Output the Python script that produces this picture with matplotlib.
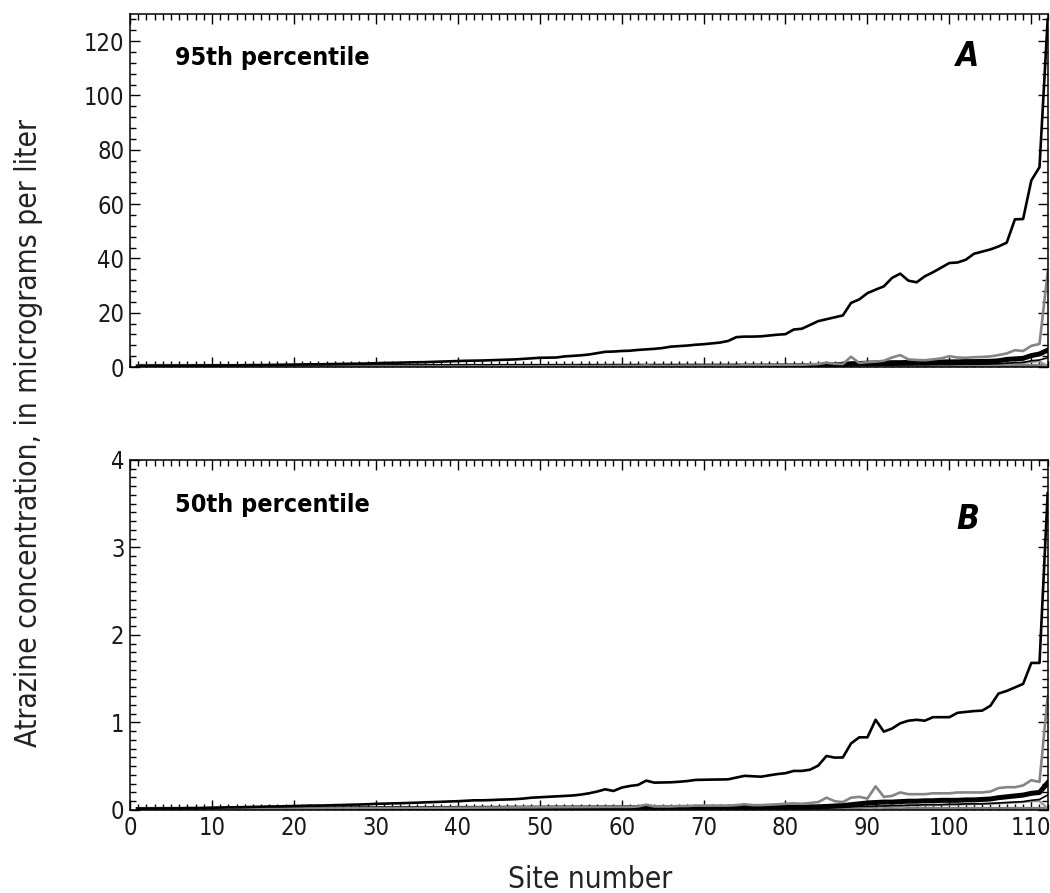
import matplotlib
matplotlib.use("Agg")
import matplotlib.pyplot as plt
from matplotlib.ticker import MultipleLocator

plt.rcParams['font.family'] = ['DejaVu Sans']
plt.rcParams['font.stretch'] = 'condensed'

sites = list(range(1, 113))

# ---- Panel A: 95th percentile ----
a_top = [0.2, 0.25, 0.3, 0.3, 0.35, 0.4, 0.4, 0.45, 0.5, 0.5,
         0.55, 0.6, 0.6, 0.65, 0.7, 0.7, 0.75, 0.8, 0.85, 0.9,
         0.95, 1.0, 1.0, 1.05, 1.1, 1.15, 1.2, 1.25, 1.3, 1.4,
         1.5, 1.55, 1.6, 1.7, 1.75, 1.8, 1.9, 2.0, 2.1, 2.2,
         2.3, 2.35, 2.4, 2.5, 2.6, 2.7, 2.8, 3.0, 3.2, 3.4,
         3.45, 3.5, 3.9, 4.1, 4.3, 4.6, 5.1, 5.6, 5.7, 5.9,
         6.0, 6.3, 6.5, 6.7, 7.0, 7.5, 7.7, 7.9, 8.2, 8.4,
         8.7, 9.0, 9.6, 11.0, 11.2, 11.2, 11.3, 11.6, 11.9, 12.1,
         13.8, 14.1, 15.5, 16.9, 17.6, 18.3, 19.0, 23.6, 24.9, 27.2,
         28.5, 29.7, 32.8, 34.4, 31.8, 31.2, 33.4, 34.9, 36.6, 38.3,
         38.5, 39.5, 41.7, 42.5, 43.3, 44.4, 45.8, 54.4, 54.5, 68.7,
         73.6, 128.0]
a_gray = [0.1, 0.1, 0.1, 0.1, 0.1, 0.1, 0.1, 0.1, 0.1, 0.1,
          0.1, 0.1, 0.1, 0.1, 0.1, 0.1, 0.1, 0.1, 0.1, 0.1,
          0.1, 0.1, 0.1, 0.1, 0.15, 0.15, 0.15, 0.15, 0.15, 0.2,
          0.2, 0.2, 0.2, 0.2, 0.2, 0.2, 0.2, 0.2, 0.2, 0.2,
          0.2, 0.25, 0.2, 0.2, 0.25, 0.25, 0.25, 0.3, 0.25, 0.3,
          0.3, 0.3, 0.3, 0.35, 0.3, 0.3, 0.35, 0.4, 0.35, 0.4,
          0.4, 0.4, 0.6, 0.4, 0.45, 0.4, 0.45, 0.5, 0.45, 0.5,
          0.5, 0.5, 0.55, 0.5, 0.7, 0.6, 0.6, 0.65, 0.7, 0.7,
          0.75, 0.8, 1.0, 1.1, 1.6, 1.2, 1.1, 3.8, 1.5, 1.8,
          2.0, 2.3, 3.5, 4.4, 2.8, 2.6, 2.5, 2.8, 3.2, 4.0,
          3.5, 3.4, 3.6, 3.7, 3.9, 4.4, 5.0, 6.2, 5.9, 7.8,
          8.5, 35.0]
a_thick = [0.05, 0.05, 0.05, 0.05, 0.05, 0.05, 0.05, 0.05, 0.05, 0.05,
           0.05, 0.05, 0.06, 0.06, 0.06, 0.07, 0.07, 0.07, 0.08, 0.08,
           0.08, 0.09, 0.09, 0.1, 0.1, 0.1, 0.11, 0.11, 0.12, 0.12,
           0.12, 0.13, 0.13, 0.14, 0.14, 0.15, 0.15, 0.16, 0.16, 0.17,
           0.17, 0.18, 0.18, 0.19, 0.19, 0.2, 0.2, 0.21, 0.21, 0.22,
           0.22, 0.23, 0.23, 0.24, 0.24, 0.25, 0.25, 0.26, 0.26, 0.27,
           0.27, 0.28, 0.28, 0.29, 0.29, 0.3, 0.3, 0.31, 0.31, 0.32,
           0.32, 0.33, 0.33, 0.34, 0.34, 0.35, 0.35, 0.36, 0.37, 0.38,
           0.4, 0.45, 0.5, 0.55, 0.7, 0.8, 1.0, 1.2, 1.3, 1.4,
           1.5, 1.5, 1.6, 1.6, 1.7, 1.7, 1.8, 1.8, 1.85, 1.9,
           1.9, 2.0, 2.0, 2.05, 2.1, 2.3, 2.8, 3.0, 3.2, 4.2,
           4.8, 6.2]
a_thin = [0.02, 0.02, 0.02, 0.02, 0.02, 0.02, 0.02, 0.02, 0.02, 0.02,
          0.02, 0.02, 0.03, 0.03, 0.03, 0.03, 0.03, 0.04, 0.04, 0.04,
          0.04, 0.04, 0.05, 0.05, 0.05, 0.05, 0.06, 0.06, 0.06, 0.06,
          0.07, 0.07, 0.07, 0.07, 0.08, 0.08, 0.08, 0.08, 0.09, 0.09,
          0.09, 0.09, 0.1, 0.1, 0.1, 0.1, 0.11, 0.11, 0.11, 0.12,
          0.12, 0.12, 0.12, 0.13, 0.13, 0.13, 0.14, 0.14, 0.14, 0.15,
          0.15, 0.15, 0.15, 0.16, 0.16, 0.16, 0.17, 0.17, 0.17, 0.18,
          0.18, 0.18, 0.19, 0.19, 0.19, 0.2, 0.2, 0.2, 0.2, 0.2,
          0.2, 0.2, 0.25, 0.3, 0.35, 0.4, 0.45, 0.5, 0.55, 0.6,
          0.65, 0.7, 0.7, 0.75, 0.75, 0.8, 0.8, 0.85, 0.9, 0.9,
          0.95, 1.0, 1.0, 1.05, 1.1, 1.2, 1.4, 1.6, 1.7, 2.3,
          2.6, 3.4]
a_gray2 = [0.03, 0.03, 0.03, 0.03, 0.03, 0.03, 0.03, 0.03, 0.03, 0.03,
           0.03, 0.03, 0.04, 0.04, 0.04, 0.04, 0.05, 0.05, 0.05, 0.05,
           0.06, 0.06, 0.06, 0.06, 0.07, 0.07, 0.07, 0.07, 0.08, 0.08,
           0.08, 0.08, 0.09, 0.09, 0.09, 0.09, 0.1, 0.1, 0.1, 0.1,
           0.11, 0.11, 0.11, 0.11, 0.12, 0.12, 0.12, 0.12, 0.13, 0.13,
           0.13, 0.13, 0.14, 0.14, 0.14, 0.14, 0.15, 0.15, 0.15, 0.15,
           0.16, 0.16, 0.16, 0.16, 0.17, 0.17, 0.17, 0.17, 0.18, 0.18,
           0.18, 0.18, 0.19, 0.19, 0.19, 0.19, 0.2, 0.2, 0.2, 0.2,
           0.21, 0.21, 0.22, 0.23, 0.25, 0.3, 0.35, 0.4, 0.45, 0.5,
           0.5, 0.55, 0.6, 0.6, 0.65, 0.65, 0.7, 0.7, 0.75, 0.8,
           0.8, 0.85, 0.9, 0.9, 0.95, 1.0, 1.2, 1.4, 1.5, 1.9,
           2.1, 0.3]
a_band = [0.0, 0.0, 0.0, 0.0, 0.0, 0.0, 0.0, 0.0, 0.0, 0.0,
          0.0, 0.0, 0.0, 0.0, 0.0, 0.0, 0.0, 0.0, 0.0, 0.0,
          0.0, 0.0, 0.0, 0.0, 0.0, 0.0, 0.0, 0.0, 0.0, 0.0,
          0.0, 0.0, 0.0, 0.0, 0.0, 0.0, 0.0, 0.0, 0.0, 0.0,
          0.0, 0.0, 0.0, 0.0, 0.0, 0.0, 0.0, 0.0, 0.0, 0.0,
          0.0, 0.0, 0.0, 0.0, 0.0, 0.0, 0.0, 0.0, 0.0, 0.0,
          0.0, 0.0, 0.0, 0.0, 0.0, 0.0, 0.0, 0.0, 0.0, 0.0,
          0.0, 0.0, 0.0, 0.0, 0.0, 0.0, 0.0, 0.0, 0.0, 0.0,
          0.0, 0.0, 0.0, 0.0, 0.0, 0.0, 0.0, 0.0, 0.0, 0.0,
          0.0, 0.0, 0.0, 0.0, 0.0, 0.0, 0.0, 0.0, 0.0, 0.0,
          0.0, 0.0, 0.0, 0.0, 0.0, 0.0, 0.0, 0.0, 0.0, 0.0,
          0.0, 0.0]

# ---- Panel B: 50th percentile ----
b_top = [0.01, 0.01, 0.012, 0.015, 0.015, 0.017, 0.02, 0.02, 0.022, 0.025,
         0.027, 0.03, 0.03, 0.032, 0.035, 0.037, 0.04, 0.04, 0.042, 0.045,
         0.047, 0.05, 0.05, 0.052, 0.055, 0.057, 0.06, 0.062, 0.065, 0.07,
         0.072, 0.075, 0.077, 0.08, 0.083, 0.087, 0.09, 0.093, 0.097, 0.1,
         0.105, 0.11, 0.11, 0.113, 0.117, 0.12, 0.123, 0.13, 0.14, 0.145,
         0.15, 0.155, 0.16, 0.165, 0.175, 0.19, 0.21, 0.236, 0.217, 0.255,
         0.274, 0.286, 0.335, 0.312, 0.314, 0.316, 0.322, 0.33, 0.343, 0.345,
         0.347, 0.348, 0.35, 0.37, 0.39, 0.385, 0.38, 0.395, 0.41, 0.42,
         0.446, 0.446, 0.46, 0.507, 0.617, 0.598, 0.6, 0.76, 0.83, 0.83,
         1.03, 0.895, 0.93, 0.99, 1.02, 1.03, 1.02, 1.06, 1.06, 1.06,
         1.11, 1.12, 1.13, 1.135, 1.19, 1.33, 1.36, 1.4, 1.44, 1.68,
         1.68, 3.62]
b_gray = [0.01, 0.01, 0.01, 0.01, 0.01, 0.01, 0.01, 0.01, 0.01, 0.01,
          0.011, 0.012, 0.012, 0.013, 0.013, 0.014, 0.014, 0.015, 0.015, 0.016,
          0.016, 0.017, 0.017, 0.018, 0.018, 0.019, 0.019, 0.02, 0.02, 0.021,
          0.021, 0.022, 0.022, 0.023, 0.023, 0.024, 0.024, 0.025, 0.025, 0.026,
          0.026, 0.027, 0.027, 0.028, 0.028, 0.029, 0.029, 0.03, 0.03, 0.031,
          0.031, 0.032, 0.032, 0.033, 0.033, 0.034, 0.034, 0.035, 0.035, 0.035,
          0.035, 0.04, 0.06, 0.04, 0.04, 0.04, 0.045, 0.045, 0.05, 0.05,
          0.05, 0.05, 0.05, 0.055, 0.065, 0.055, 0.055, 0.06, 0.065, 0.07,
          0.075, 0.07, 0.08, 0.09, 0.14, 0.1, 0.09, 0.14, 0.15, 0.13,
          0.27, 0.15, 0.16, 0.2, 0.18, 0.18, 0.18, 0.19, 0.19, 0.19,
          0.2, 0.2, 0.2, 0.2, 0.21, 0.25, 0.26, 0.26, 0.28, 0.34,
          0.32, 1.3]
b_thick = [0.005, 0.005, 0.005, 0.006, 0.006, 0.006, 0.007, 0.007, 0.007, 0.008,
           0.008, 0.008, 0.009, 0.009, 0.009, 0.01, 0.01, 0.01, 0.011, 0.011,
           0.011, 0.012, 0.012, 0.012, 0.013, 0.013, 0.013, 0.014, 0.014, 0.014,
           0.015, 0.015, 0.015, 0.016, 0.016, 0.016, 0.017, 0.017, 0.017, 0.018,
           0.018, 0.018, 0.019, 0.019, 0.019, 0.02, 0.02, 0.02, 0.021, 0.021,
           0.021, 0.022, 0.022, 0.022, 0.023, 0.023, 0.023, 0.024, 0.024, 0.024,
           0.025, 0.025, 0.025, 0.026, 0.026, 0.026, 0.027, 0.027, 0.027, 0.028,
           0.028, 0.028, 0.029, 0.029, 0.029, 0.03, 0.03, 0.031, 0.031, 0.032,
           0.032, 0.033, 0.034, 0.036, 0.04, 0.045, 0.05, 0.06, 0.07, 0.08,
           0.085, 0.09, 0.09, 0.095, 0.1, 0.1, 0.105, 0.105, 0.11, 0.11,
           0.11, 0.115, 0.115, 0.12, 0.125, 0.14, 0.15, 0.16, 0.17, 0.19,
           0.2, 0.31]
b_thin = [0.002, 0.002, 0.002, 0.002, 0.002, 0.003, 0.003, 0.003, 0.003, 0.003,
          0.003, 0.004, 0.004, 0.004, 0.004, 0.005, 0.005, 0.005, 0.005, 0.006,
          0.006, 0.006, 0.006, 0.006, 0.007, 0.007, 0.007, 0.007, 0.007, 0.008,
          0.008, 0.008, 0.008, 0.008, 0.009, 0.009, 0.009, 0.009, 0.009, 0.01,
          0.01, 0.01, 0.01, 0.01, 0.011, 0.011, 0.011, 0.011, 0.011, 0.012,
          0.012, 0.012, 0.012, 0.012, 0.013, 0.013, 0.013, 0.013, 0.013, 0.014,
          0.014, 0.014, 0.014, 0.014, 0.015, 0.015, 0.015, 0.015, 0.015, 0.016,
          0.016, 0.016, 0.016, 0.016, 0.017, 0.017, 0.017, 0.017, 0.018, 0.018,
          0.019, 0.019, 0.02, 0.022, 0.025, 0.03, 0.03, 0.035, 0.04, 0.04,
          0.045, 0.045, 0.05, 0.05, 0.055, 0.055, 0.06, 0.06, 0.06, 0.065,
          0.065, 0.07, 0.07, 0.07, 0.075, 0.08, 0.085, 0.09, 0.095, 0.11,
          0.12, 0.17]
b_gray2 = [0.004, 0.004, 0.004, 0.004, 0.004, 0.004, 0.004, 0.004, 0.004, 0.004,
           0.004, 0.005, 0.005, 0.005, 0.005, 0.006, 0.006, 0.006, 0.006, 0.007,
           0.007, 0.007, 0.007, 0.008, 0.008, 0.008, 0.008, 0.009, 0.009, 0.009,
           0.009, 0.01, 0.01, 0.01, 0.01, 0.011, 0.011, 0.011, 0.011, 0.012,
           0.012, 0.012, 0.012, 0.013, 0.013, 0.013, 0.013, 0.014, 0.014, 0.014,
           0.014, 0.015, 0.015, 0.015, 0.015, 0.016, 0.016, 0.016, 0.016, 0.017,
           0.017, 0.017, 0.017, 0.018, 0.018, 0.018, 0.018, 0.019, 0.019, 0.019,
           0.019, 0.02, 0.02, 0.02, 0.02, 0.021, 0.021, 0.021, 0.021, 0.022,
           0.022, 0.023, 0.024, 0.026, 0.03, 0.03, 0.035, 0.04, 0.04, 0.02,
           0.0, 0.04, 0.04, 0.03, 0.05, 0.05, 0.055, 0.055, 0.06, 0.06,
           0.06, 0.065, 0.065, 0.07, 0.07, 0.075, 0.08, 0.085, 0.09, 0.1,
           0.1, 0.02]
b_band = a_band

panels = [
    dict(top=a_top, gray=a_gray, thick=a_thick, thin=a_thin, gray2=a_gray2, band=a_band,
         ymax=130, minor=4, yticks=[0, 20, 40, 60, 80, 100, 120],
         title='95th percentile', letter='A', ty=0.875, ly=0.88),
    dict(top=b_top, gray=b_gray, thick=b_thick, thin=b_thin, gray2=b_gray2, band=b_band,
         ymax=4, minor=0.1, yticks=[0, 1, 2, 3, 4],
         title='50th percentile', letter='B', ty=0.871, ly=0.83),
]

fig = plt.figure(figsize=(10.5, 8.93), dpi=100)
ax_a = fig.add_axes([0.1238, 0.589, 0.874, 0.3953])
ax_b = fig.add_axes([0.1238, 0.093, 0.874, 0.392])

for ax, p in zip([ax_a, ax_b], panels):
    ax.plot(sites, p['band'], color='#7a7a7a', lw=4.5, solid_capstyle='butt')
    ax.plot(sites, p['gray2'], color='#9a9a9a', lw=1.6)
    ax.plot(sites, p['thin'], color='black', lw=1.2)
    ax.plot(sites, p['thick'], color='black', lw=3.6)
    ax.plot(sites, p['gray'], color='#858585', lw=1.9)
    ax.plot(sites, p['top'], color='black', lw=1.9)

    ax.set_xlim(0, 112)
    ax.set_ylim(0, p['ymax'])
    ax.set_yticks(p['yticks'])
    ax.xaxis.set_major_locator(MultipleLocator(10))
    ax.xaxis.set_minor_locator(MultipleLocator(1))
    ax.yaxis.set_minor_locator(MultipleLocator(p['minor']))
    ax.tick_params(which='both', direction='in', top=True, right=True, width=1.0)
    ax.tick_params(which='major', length=7, labelsize=17, pad=4,
                   labelcolor='#1a1a1a')
    ax.tick_params(which='minor', length=4)
    for s in ax.spines.values():
        s.set_linewidth(1.1)

    ax.text(0.049, p['ty'], p['title'], transform=ax.transAxes,
            fontsize=18, fontweight='bold', va='center')
    ax.text(0.913, p['ly'], p['letter'], transform=ax.transAxes, fontsize=24,
            fontweight='bold', fontstyle='italic', ha='center', va='center')

ax_a.tick_params(labelbottom=False)
ax_b.set_xticks([0, 10, 20, 30, 40, 50, 60, 70, 80, 90, 100, 110])

fig.text(0.027, 0.515, 'Atrazine concentration, in micrograms per liter',
         rotation=90, ha='center', va='center', fontsize=21.5, color='#222222')
fig.text(0.562, 0.0146, 'Site number', ha='center', va='center',
         fontsize=21.5, color='#222222')

fig.savefig('out.png', dpi=100)
